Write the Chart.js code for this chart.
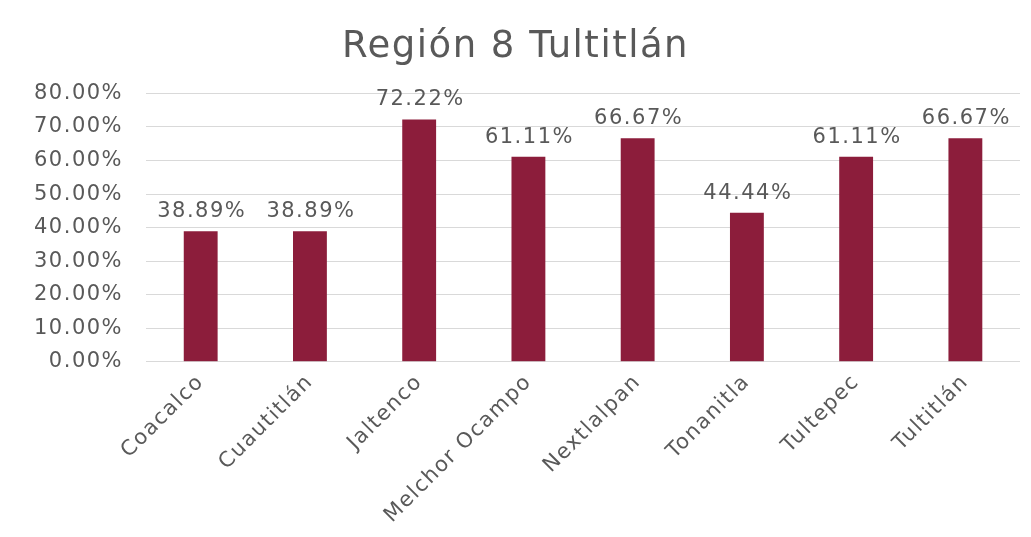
<!DOCTYPE html>
<html>
<head>
<meta charset="utf-8">
<script src="https://cdn.jsdelivr.net/npm/chart.js@4"></script>
<style>
  html, body { margin: 0; padding: 0; background: #ffffff; }
  #wrap { width: 1031px; height: 537px; }
</style>
</head>
<body>
<div id="wrap"><canvas id="barChart" width="1031" height="537"></canvas></div>
<script>
const municipios = ['Coacalco', 'Cuautitlán', 'Jaltenco', 'Melchor Ocampo', 'Nextlalpan', 'Tonanitla', 'Tultepec', 'Tultitlán'];
const porcentajes = [38.89, 38.89, 72.22, 61.11, 66.67, 44.44, 61.11, 66.67];
const yTicks = [0, 10, 20, 30, 40, 50, 60, 70, 80];

const textColor = '#595959';
const fontFamily = '"DejaVu Sans", sans-serif';

// a little extra spacing, the original font is wider
const wideText = {
    id: 'wideText',
    beforeUpdate(chart) { chart.ctx.letterSpacing = '1.5px'; },
    beforeDraw(chart) { chart.ctx.letterSpacing = '1.5px'; }
};

// draws the value above each bar
const valueLabels = {
    id: 'valueLabels',
    afterDatasetsDraw(chart) {
        const ctx = chart.ctx;
        const meta = chart.getDatasetMeta(0);
        ctx.save();
        ctx.font = '21px ' + fontFamily;
        ctx.fillStyle = textColor;
        ctx.textAlign = 'center';
        ctx.textBaseline = 'bottom';
        meta.data.forEach((bar, i) => {
            ctx.fillText(porcentajes[i].toFixed(2) + '%', bar.x + 1, bar.y - 9);
        });
        ctx.restore();
    }
};

const ctx = document.getElementById('barChart').getContext('2d');
new Chart(ctx, {
    type: 'bar',
    data: {
        labels: municipios,
        datasets: [{
            label: 'Región 8 Tultitlán',
            data: porcentajes,
            backgroundColor: '#8c1d3b',
            categoryPercentage: 1,
            barPercentage: 0.31
        }]
    },
    options: {
        responsive: false,
        animation: false,
        devicePixelRatio: 1,
        layout: {
            padding: { left: 11, right: 11, top: 0, bottom: 1 }
        },
        plugins: {
            legend: { display: false },
            tooltip: { enabled: false },
            title: {
                display: true,
                text: 'Región 8 Tultitlán',
                color: textColor,
                font: { family: fontFamily, size: 37, weight: 'normal' },
                padding: { top: 25, bottom: 24 }
            }
        },
        scales: {
            x: {
                grid: { display: false, drawTicks: false },
                border: { display: false },
                ticks: {
                    color: textColor,
                    font: { family: fontFamily, size: 21 },
                    maxRotation: 45,
                    minRotation: 45,
                    padding: 8,
                    autoSkip: false
                }
            },
            y: {
                min: 0,
                max: 80,
                afterBuildTicks(axis) {
                    axis.ticks = yTicks.map(v => ({ value: v }));
                },
                grid: { color: '#d9d9d9', lineWidth: 1, drawTicks: false },
                border: { display: false },
                ticks: {
                    color: textColor,
                    font: { family: fontFamily, size: 21 },
                    padding: 23,
                    callback: v => v.toFixed(2) + '%'
                }
            }
        }
    },
    plugins: [wideText, valueLabels]
});
</script>
</body>
</html>
